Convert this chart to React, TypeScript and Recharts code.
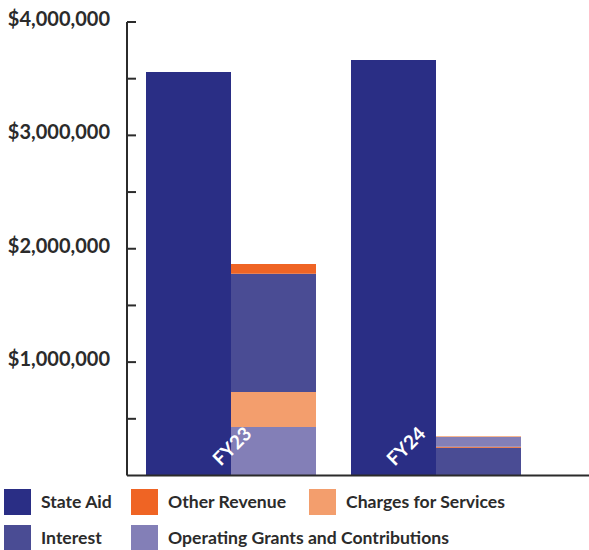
import React from 'react';
import { BarChart, Bar, XAxis, YAxis } from 'recharts';

// Fiscal years on the x axis
const years = ['FY23', 'FY24'];

// Revenue by source, in dollars
const stateAid = [3558000, 3664000];
const operatingGrants = [428000, 87000];
const chargesForServices = [308000, 7000];
const interest = [1044000, 245000];
const otherRevenue = [85000, 8000];

// In FY24 the grants and charges sit above interest instead of below it
const grantsAboveInterest = [false, true];

const yTicks = [0, 500000, 1000000, 1500000, 2000000, 2500000, 3000000, 3500000, 4000000];

const COLORS = {
  stateAid: '#2a2e85',
  other: '#ef6424',
  charges: '#f39e6d',
  interest: '#4a4c94',
  operating: '#837fb7',
};

const FONT = 'Lato, "Open Sans", sans-serif';

const chartData = years.map((year, i) => {
  const top = grantsAboveInterest[i];
  return {
    year,
    stateAid: stateAid[i],
    opLow: top ? 0 : operatingGrants[i],
    chLow: top ? 0 : chargesForServices[i],
    interest: interest[i],
    other: otherRevenue[i],
    opHigh: top ? operatingGrants[i] : 0,
    chHigh: top ? chargesForServices[i] : 0,
  };
});

const legendItems = [
  { label: 'State Aid', color: COLORS.stateAid, left: 4, top: 489 },
  { label: 'Other Revenue', color: COLORS.other, left: 131, top: 489 },
  { label: 'Charges for Services', color: COLORS.charges, left: 309, top: 489 },
  { label: 'Interest', color: COLORS.interest, left: 4, top: 525 },
  { label: 'Operating Grants and Contributions', color: COLORS.operating, left: 131, top: 525 },
];

const YTick = ({ x, y, payload }: any) => {
  const v = payload.value as number;
  if (v <= 0) return null;
  return (
    <g>
      <line x1={x} x2={x + 9} y1={y} y2={y} stroke="#2b2b2b" strokeWidth={2} />
      {v % 1000000 === 0 && (
        <text
          x={x - 17}
          y={y + 4}
          textAnchor="end"
          fill="#2b2b2b"
          fontFamily={FONT}
          fontWeight={700}
          fontSize={20}
        >
          {'$' + v.toLocaleString('en-US')}
        </text>
      )}
    </g>
  );
};

// labels sit inside the bars, tilted up
const labelShift: Record<string, number> = { FY23: 1, FY24: -30 };

const XTick = ({ x, y, payload }: any) => {
  const cx = x + (labelShift[payload.value] ?? 0);
  const cy = y - 38;
  return (
    <text
      x={cx}
      y={cy}
      textAnchor="middle"
      dominantBaseline="central"
      transform={`rotate(-45, ${cx}, ${cy})`}
      fill="#ffffff"
      fontFamily={FONT}
      fontWeight={700}
      fontSize={19}
    >
      {payload.value}
    </text>
  );
};

export default function App() {
  return (
    <div style={{ position: 'absolute', left: 0, top: 0, width: 589, height: 550, background: '#fff' }}>
      <BarChart
        width={589}
        height={480}
        data={chartData}
        margin={{ top: 22, right: 0, bottom: 3.5, left: 0 }}
        barCategoryGap={18}
        barGap={0}
      >
        <XAxis
          dataKey="year"
          height={1}
          padding={{ left: 1, right: 51 }}
          axisLine={{ stroke: '#2b2b2b', strokeWidth: 2 }}
          tickLine={false}
          tick={<XTick />}
          interval={0}
        />
        <YAxis
          width={127}
          domain={[0, 4000000]}
          ticks={yTicks}
          interval={0}
          tickSize={0}
          tickMargin={0}
          axisLine={{ stroke: '#2b2b2b', strokeWidth: 2 }}
          tickLine={false}
          tick={<YTick />}
        />
        <Bar dataKey="stateAid" stackId="a" fill={COLORS.stateAid} isAnimationActive={false} />
        <Bar dataKey="opLow" stackId="b" fill={COLORS.operating} isAnimationActive={false} />
        <Bar dataKey="chLow" stackId="b" fill={COLORS.charges} isAnimationActive={false} />
        <Bar dataKey="interest" stackId="b" fill={COLORS.interest} isAnimationActive={false} />
        <Bar dataKey="other" stackId="b" fill={COLORS.other} isAnimationActive={false} />
        <Bar dataKey="opHigh" stackId="b" fill={COLORS.operating} isAnimationActive={false} />
        <Bar dataKey="chHigh" stackId="b" fill={COLORS.charges} isAnimationActive={false} />
      </BarChart>
      {legendItems.map((item) => (
        <div key={item.label} style={{ position: 'absolute', left: item.left, top: item.top, height: 26 }}>
          <div style={{ position: 'absolute', left: 0, top: 0, width: 27, height: 26, background: item.color }} />
          <div
            style={{
              position: 'absolute',
              left: 37,
              top: 0,
              lineHeight: '26px',
              whiteSpace: 'nowrap',
              fontFamily: FONT,
              fontWeight: 700,
              fontSize: 17.6,
              color: '#2b2b2b',
            }}
          >
            {item.label}
          </div>
        </div>
      ))}
    </div>
  );
}
